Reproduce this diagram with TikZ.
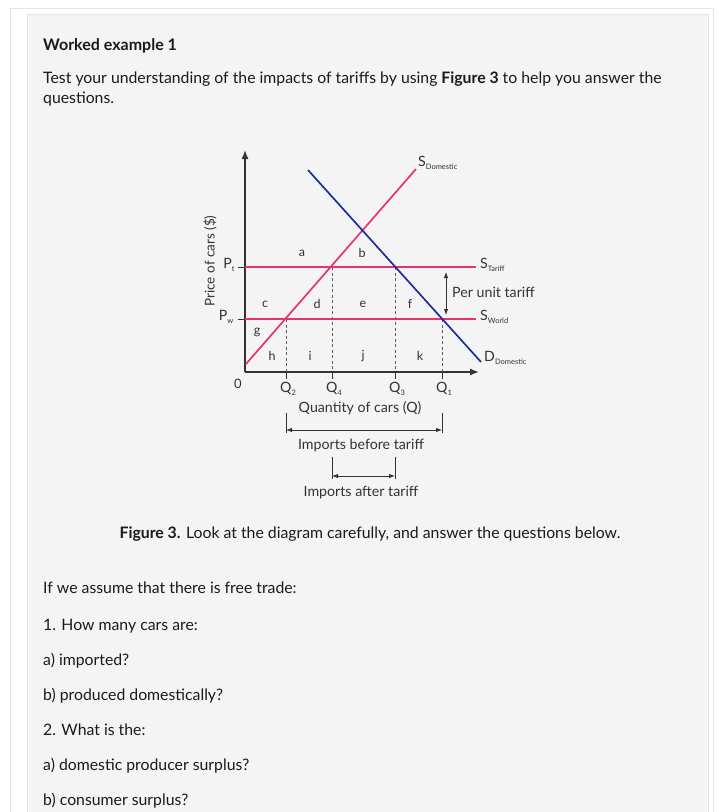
\documentclass[tikz,border=0pt]{standalone}
\usepackage{fontspec}
\setmainfont{Lato}
\usetikzlibrary{arrows.meta}
\definecolor{panel}{HTML}{F4F4F4}
\definecolor{frame}{HTML}{E4E4E4}
\definecolor{txt}{HTML}{1A1A1A}
\definecolor{lab}{HTML}{333333}
\definecolor{pinkline}{HTML}{E8336B}
\definecolor{blueline}{HTML}{1E2D9C}
\newcommand{\sub}[1]{\raisebox{-3pt}{\fontsize{7.5}{8}\selectfont #1}}
\begin{document}
\begin{tikzpicture}[x=1pt,y=-1pt,
  body/.style={anchor=base west,inner sep=0pt,text=txt,font=\fontsize{15.8}{18}\selectfont},
  letter/.style={inner sep=0pt,text=lab,font=\fontsize{12.5}{14}\selectfont},
  dlabel/.style={inner sep=0pt,text=lab,font=\fontsize{14.2}{16}\selectfont},
  axis/.style={draw=lab,line width=1.4pt},
  pinkc/.style={draw=pinkline,line width=1.7pt},
  bluec/.style={draw=blueline,line width=1.7pt},
  dashln/.style={draw=lab!80,line width=0.9pt,dash pattern=on 3pt off 2.5pt},
  thinln/.style={draw=lab,line width=0.9pt},
  dtip/.style={{Latex[length=6pt,width=4.5pt]}-{Latex[length=6pt,width=4.5pt]}}]
\useasboundingbox (0,0) rectangle (719,812);
\fill[white] (0,0) rectangle (719,812);
\draw[frame,line width=0.8pt] (10,8) rectangle (713,830);
\draw[draw=frame,fill=panel,line width=0.8pt] (27,14) rectangle (708,830);

% heading texts
\node[body,font=\fontsize{16}{18}\selectfont\bfseries] (title) at (43,50) {Worked example 1};
\node[body] (intro1) at (43,83) {Test your understanding of the impacts of tariffs by using \textbf{Figure 3} to help you answer the};
\node[body] (intro2) at (43,103) {questions.};

% axes
\coordinate (O) at (245,372);
\coordinate (Ytop) at (245,150);
\coordinate (Xend) at (479,372);
\draw[axis,-{Latex[length=9pt,width=7pt]}] (O) -- (Ytop);
\draw[axis,-{Latex[length=9pt,width=7pt]}] (O) -- (Xend);
\node[letter,font=\fontsize{13}{15}\selectfont] (zero) at (238,384) {0};
\node[dlabel,rotate=90,font=\fontsize{13.5}{15}\selectfont] (ylab) at (210,261) {Price of cars (\$)};

% price levels
\coordinate (PtL) at (245,267); \coordinate (PtR) at (476,267);
\coordinate (PwL) at (245,319); \coordinate (PwR) at (476,319);
\draw[thinln] (238,267) -- (PtL);
\draw[thinln] (238,319) -- (PwL);
\node[dlabel] (Pt) at (229,265) {P\sub{t}};
\node[dlabel] (Pw) at (226,317) {P\sub{w}};

% dashed verticals
\coordinate (Q2t) at (286,319); \coordinate (Q2b) at (286,379);
\coordinate (Q4t) at (332,267); \coordinate (Q4b) at (332,379);
\coordinate (Q3t) at (395,267); \coordinate (Q3b) at (395,379);
\coordinate (Q1t) at (442,319); \coordinate (Q1b) at (442,379);
\draw[dashln] (Q2t) -- (286,372); \draw[thinln] (286,372) -- (Q2b);
\draw[dashln] (Q4t) -- (332,372); \draw[thinln] (332,372) -- (Q4b);
\draw[dashln] (Q3t) -- (395,372); \draw[thinln] (395,372) -- (Q3b);
\draw[dashln] (Q1t) -- (442,372); \draw[thinln] (442,372) -- (Q1b);

\draw[pinkc] (PtL) -- (PtR);
\draw[pinkc] (PwL) -- (PwR);
% supply and demand
\coordinate (Sa) at (246,364); \coordinate (Sb) at (416,169);
\coordinate (Da) at (308,170); \coordinate (Db) at (481,362);
\draw[pinkc] (Sa) -- (Sb);
\draw[bluec] (Da) -- (Db);

% Q labels
\node[dlabel] (Q2) at (288,389) {Q\sub{2}};
\node[dlabel] (Q4) at (334,389) {Q\sub{4}};
\node[dlabel] (Q3) at (397,389) {Q\sub{3}};
\node[dlabel] (Q1) at (444,389) {Q\sub{1}};
\node[dlabel] (xlab) at (360,408) {Quantity of cars (Q)};

% area letters
\node[letter] (a) at (302,253) {a};
\node[letter] (b) at (362,253) {b};
\node[letter] (c) at (265,304) {c};
\node[letter] (d) at (317,304) {d};
\node[letter] (e) at (363,304) {e};
\node[letter] (f) at (410,304) {f};
\node[letter] (g) at (257,332) {g};
\node[letter] (h) at (272,356) {h};
\node[letter] (i) at (310,356) {i};
\node[letter] (j) at (363,356) {j};
\node[letter] (k) at (420,356) {k};

% curve labels
\node[dlabel,anchor=west] (SD) at (418,163) {S\sub{Domestic}};
\node[dlabel,anchor=west] (ST) at (480,265) {S\sub{Tariff}};
\node[dlabel,anchor=west] (SW) at (480,317) {S\sub{World}};
\node[dlabel,anchor=west] (DD) at (484,358) {D\sub{Domestic}};
\node[dlabel,anchor=west] (PUT) at (452,292) {Per unit tariff};
\coordinate (TT) at (446,272); \coordinate (TB) at (446,315);
\draw[thinln,dtip] (TT) -- (TB);

% import brackets
\coordinate (IB1t) at (286,413); \coordinate (IB1b) at (286,433);
\coordinate (IB2t) at (442,413); \coordinate (IB2b) at (442,433);
\draw[thinln] (IB1t) -- (IB1b);
\draw[thinln] (IB2t) -- (IB2b);
\draw[thinln,dtip] (286,430) -- (442,430);
\node[dlabel] (ibt) at (361,445) {Imports before tariff};
\coordinate (IA1t) at (332,457); \coordinate (IA1b) at (332,479);
\coordinate (IA2t) at (395,457); \coordinate (IA2b) at (395,479);
\draw[thinln] (IA1t) -- (IA1b);
\draw[thinln] (IA2t) -- (IA2b);
\draw[thinln,dtip] (332,476) -- (395,476);
\node[dlabel] (iat) at (361,493) {Imports after tariff};

% caption and questions
\node[body,anchor=base] (cap) at (370,538) {\textbf{Figure 3.} Look at the diagram carefully, and answer the questions below.};
\node[body] (q0) at (43,593) {If we assume that there is free trade:};
\node[body] (q1) at (43,630) {1. How many cars are:};
\node[body] (q1a) at (43,665) {a) imported?};
\node[body] (q1b) at (43,700) {b) produced domestically?};
\node[body] (q2) at (43,735) {2. What is the:};
\node[body] (q2a) at (43,770) {a) domestic producer surplus?};
\node[body] (q2b) at (43,805) {b) consumer surplus?};
\end{tikzpicture}
\end{document}
